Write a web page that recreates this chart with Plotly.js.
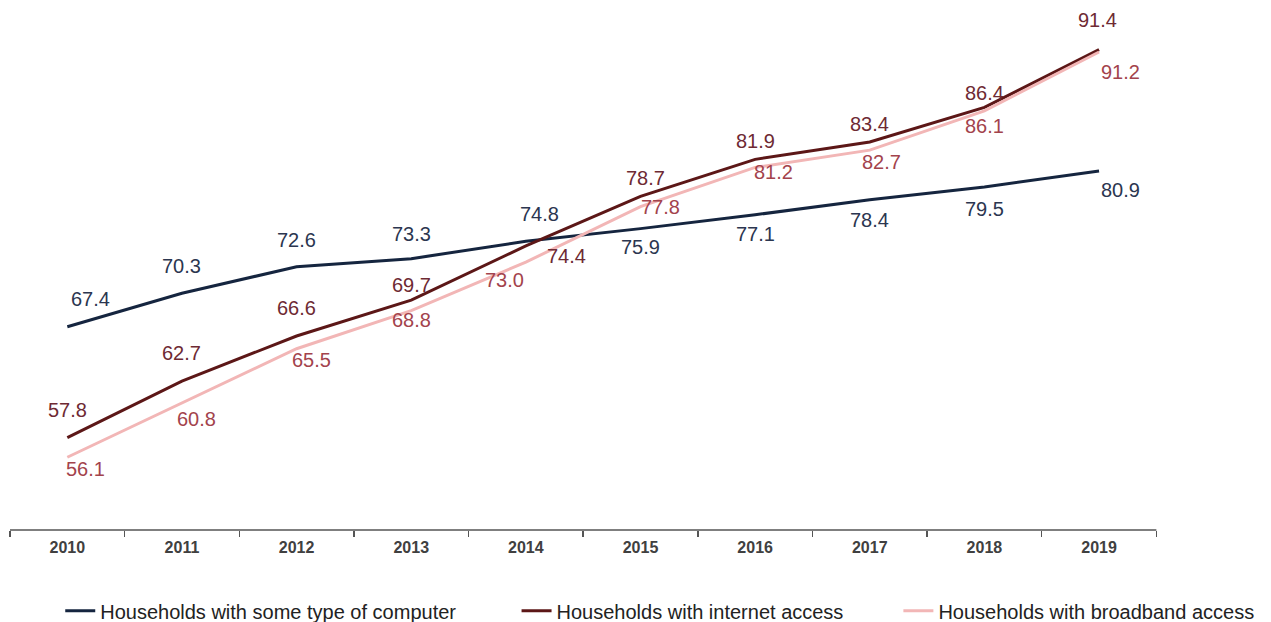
<!DOCTYPE html>
<html>
<head>
<meta charset="utf-8">
<script src="https://cdn.plot.ly/plotly-3.0.1.min.js"></script>
<style>html,body{margin:0;padding:0;background:#fff;}#chart{width:1271px;height:622px;}</style>
</head>
<body>
<div id="chart"></div>
<script>
const years = ["2010","2011","2012","2013","2014","2015","2016","2017","2018","2019"];
const computer = [67.4, 70.3, 72.6, 73.3, 74.8, 75.9, 77.1, 78.4, 79.5, 80.9];
const internet = [57.8, 62.7, 66.6, 69.7, 74.4, 78.7, 81.9, 83.4, 86.4, 91.4];
const broadband = [56.1, 60.8, 65.5, 68.8, 73.0, 77.8, 81.2, 82.7, 86.1, 91.2];
const seriesNames = ["Households with some type of computer", "Households with internet access", "Households with broadband access"];

// label offsets in pixels [dx, dy] (dy positive = downward)
const offComputer = [[23,-28],[0,-27],[0,-27],[0,-25],[14,-27],[0,18],[0,19],[0,20],[0,22],[21,19]];
const offInternet = [[0,-28],[0,-28],[0,-28],[0,-15],[41,10],[5,-18],[0,-18],[0,-18],[0,-14],[-2,-30]];
const offBroadband = [[18,12],[15,16],[15,11],[0,9],[-21,18],[20,0],[18,5],[12,12],[0,15],[21,20]];

const lineColors = ["#15253f", "#5c1717", "#f2b6b6"];
const labelColors = ["#2b3650", "#6e2a33", "#a3434c"];

const font = "Arial, 'Liberation Sans', sans-serif";
const allSeries = [computer, internet, broadband];
const allOffsets = [offComputer, offInternet, offBroadband];
const pads = ["\u00a0".repeat(10), "\u00a0".repeat(9), ""];

const traces = allSeries.map((vals, i) => ({
  type: "scatter",
  mode: "lines",
  x: years,
  y: vals,
  name: seriesNames[i] + pads[i],
  line: {color: lineColors[i], width: 3},
  hoverinfo: "skip"
}));

const annotations = [];
allSeries.forEach((vals, i) => {
  vals.forEach((v, j) => {
    annotations.push({
      x: j, y: v, xref: "x", yref: "y",
      text: v.toFixed(1), showarrow: false,
      xshift: allOffsets[i][j][0], yshift: -allOffsets[i][j][1],
      font: {family: font, size: 20, color: labelColors[i]}
    });
  });
});

const layout = {
  width: 1271, height: 622,
  margin: {l: 10, r: 0, t: 0, b: 92},
  paper_bgcolor: "#fff", plot_bgcolor: "#fff",
  showlegend: true,
  legend: {
    orientation: "h", xref: "container", yref: "container",
    x: 0.0474, xanchor: "left", y: 0.018, yanchor: "middle",
    font: {family: font, size: 20, color: "#222"},
    traceorder: "normal"
  },
  xaxis: {
    type: "category", range: [-0.5, 10.5],
    showline: false,
    ticks: "outside", tickson: "boundaries", ticklen: 6, tickcolor: "#555", tickwidth: 1.5,
    ticklabelstandoff: 6,
    showgrid: false, zeroline: false,
    tickfont: {family: font, size: 16, color: "#404040", weight: "bold"}
  },
  yaxis: {
    range: [49.8, 95.7], showticklabels: false, showline: false, ticks: "",
    showgrid: false, zeroline: false
  },
  shapes: [{
    type: "line", xref: "x", yref: "paper", x0: -0.5, x1: 9.5, y0: 0, y1: 0,
    line: {color: "#555", width: 1.5}
  }],
  annotations: annotations
};

Plotly.newPlot("chart", traces, layout, {displayModeBar: false, staticPlot: true});
</script>
</body>
</html>
